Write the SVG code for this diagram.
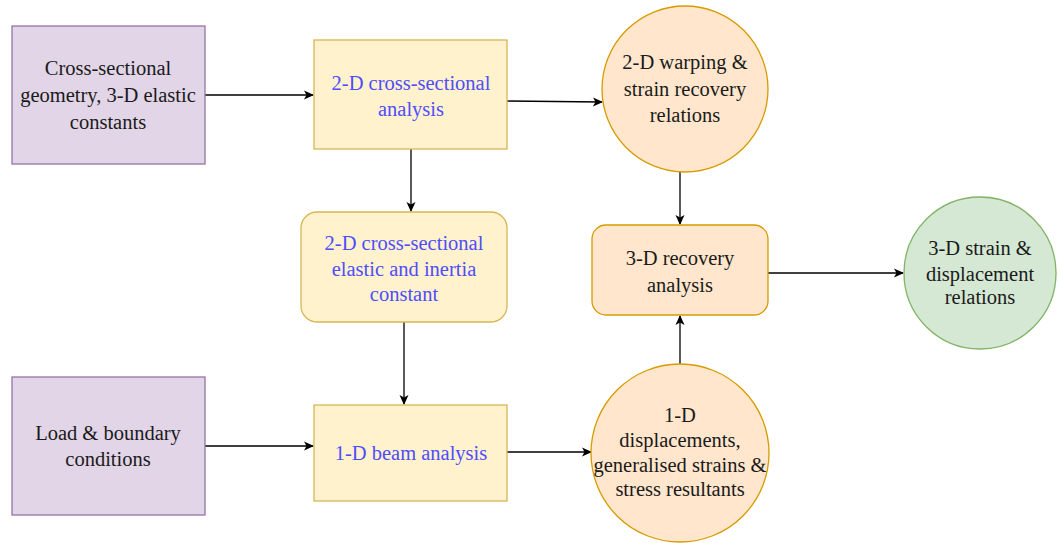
<svg xmlns="http://www.w3.org/2000/svg" width="1058" height="543" viewBox="0 0 1058 543">
<style>
text{font-family:'Liberation Serif','Times New Roman',serif;font-size:20.5px;text-anchor:middle;fill:#1a1a1a}
.b{fill:#4d4dff}
.purple{fill:#e1d5e7;stroke:#9673a6;stroke-width:1.3}
.yellow{fill:#fff2cc;stroke:#d6b656;stroke-width:1.3}
.orange{fill:#ffe6cc;stroke:#d79b00;stroke-width:1.3}
.green{fill:#d5e8d4;stroke:#82b366;stroke-width:1.3}
.c{fill:none;stroke:#000;stroke-width:1.3;marker-end:url(#ah)}
</style>
<defs>
<marker id="ah" viewBox="0 0 10 10" refX="9" refY="5" markerWidth="10" markerHeight="10" markerUnits="userSpaceOnUse" orient="auto">
<path d="M0,0.5 L10,5 L0,9.5 L2.5,5 Z" fill="#000"/>
</marker>
</defs>
<rect width="1058" height="543" fill="#fff"/>
<g id="connectors">
<line class="c" x1="205" y1="95" x2="313" y2="95"/>
<line class="c" x1="507" y1="101" x2="602" y2="102"/>
<line class="c" x1="411" y1="149" x2="411" y2="211"/>
<line class="c" x1="404" y1="322" x2="404" y2="404"/>
<line class="c" x1="205" y1="446" x2="313" y2="446"/>
<line class="c" x1="507" y1="452" x2="591" y2="452"/>
<line class="c" x1="680" y1="172" x2="680" y2="224"/>
<line class="c" x1="680" y1="364" x2="680" y2="316"/>
<line class="c" x1="768" y1="273" x2="903" y2="273"/>
</g>
<g id="n1">
<rect class="purple" x="12" y="26" width="193" height="138"/>
<text x="108" y="75">Cross-sectional</text>
<text x="108" y="102">geometry, 3-D elastic</text>
<text x="108" y="129">constants</text>
</g>
<g id="n2">
<rect class="yellow" x="314" y="40" width="193" height="109"/>
<text class="b" x="411" y="90">2-D cross-sectional</text>
<text class="b" x="411" y="116">analysis</text>
</g>
<g id="n3">
<circle class="orange" cx="685" cy="89" r="83"/>
<text x="685" y="69">2-D warping &amp;</text>
<text x="685" y="96">strain recovery</text>
<text x="685" y="122">relations</text>
</g>
<g id="n4">
<rect class="yellow" x="301" y="212" width="206" height="110" rx="16"/>
<text class="b" x="404" y="250">2-D cross-sectional</text>
<text class="b" x="404" y="276">elastic and inertia</text>
<text class="b" x="404" y="301">constant</text>
</g>
<g id="n5">
<rect class="orange" x="592" y="225" width="176" height="90" rx="14"/>
<text x="680" y="265">3-D recovery</text>
<text x="680" y="292">analysis</text>
</g>
<g id="n6">
<circle class="green" cx="980" cy="273" r="76"/>
<text x="980" y="255">3-D strain &amp;</text>
<text x="980" y="281">displacement</text>
<text x="980" y="304">relations</text>
</g>
<g id="n7">
<rect class="purple" x="12" y="377" width="193" height="138"/>
<text x="108" y="440">Load &amp; boundary</text>
<text x="108" y="466">conditions</text>
</g>
<g id="n8">
<rect class="yellow" x="314" y="405" width="193" height="96"/>
<text class="b" x="411" y="460">1-D beam analysis</text>
</g>
<g id="n9">
<circle class="orange" cx="680" cy="453" r="89"/>
<text x="680" y="422">1-D</text>
<text x="680" y="447">displacements,</text>
<text x="680" y="472">generalised strains &amp;</text>
<text x="680" y="496">stress resultants</text>
</g>
</svg>
